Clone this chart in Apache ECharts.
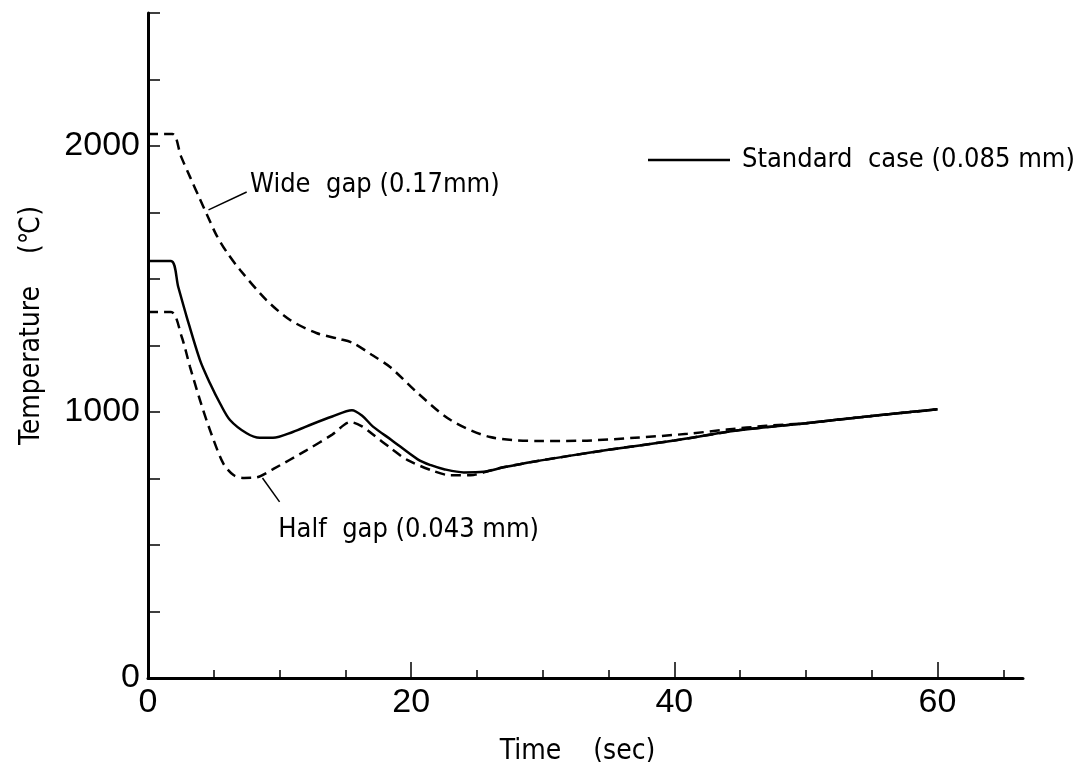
<!DOCTYPE html>
<html>
<head>
<meta charset="utf-8">
<script src="https://cdn.jsdelivr.net/npm/echarts@6/dist/echarts.min.js"></script>
<style>
html,body{margin:0;padding:0;background:#fff;}
#chart{width:1078px;height:762px;}
</style>
</head>
<body>
<div id="chart"></div>
<script>
// ---- data (time in sec, temperature in °C) ----
const xMajorTicks = [0, 20, 40, 60];
const xMinorTicks = [5, 10, 15, 25, 30, 35, 45, 50, 55, 65];
const yLabelValues = [0, 1000, 2000];

const standardCase = [
  [0,1568],[1.75,1568],[2.3,1470],[2.94,1358],[3.95,1195],[4.71,1108],[5.5,1030],
  [6.23,970],[7.5,920],[8.5,903],[9.5,903],[11,925],[12.5,955],[14,983],[15.5,1007],
  [16.3,985],[17.1,945],[18.5,895],[20.5,822],[21.5,800],[22.5,785],[24,773],[25.5,775],
  [27,792],[29.5,815],[32,835],[35,858],[40,893],[45,932],[50,958],[55,985],[60,1010]
];
const wideGap = [
  [0,2045],[1.85,2045],[2.5,1962],[3.2,1883],[3.95,1800],[4.5,1740],[5.2,1665],[6,1600],
  [7,1534],[9,1421],[10.8,1346],[12.8,1297],[14.5,1275],[15.6,1259],[17,1215],[18.4,1169],
  [20.5,1071],[23,970],[26,906],[29.8,891],[33,892],[37,903],[41,918],[44,934],[47,948],
  [50,958],[55,985],[60,1010]
];
const halfGap = [
  [0,1376],[1.75,1376],[2.56,1283],[3.19,1170],[3.95,1045],[4.71,932],[5.72,807],
  [6.5,763],[7.3,752],[8.3,755],[9.5,785],[12,855],[14,915],[15.4,962],[16.3,945],
  [17.1,915],[18.5,862],[19.7,820],[21.7,778],[23,762],[24.5,762],[26,780],[27,792],
  [29.5,815],[32,835],[35,858],[40,893],[45,932],[50,958],[55,985],[60,1010]
];

// annotation texts and anchor points (data coordinates)
const labelWide = 'Wide  gap (0.17mm)';
const labelHalf = 'Half  gap (0.043 mm)';
const labelStandard = 'Standard  case (0.085 mm)';
const wideTextAt = [7.75, 1853];
const wideArrow = [[7.5, 1827], [4.6, 1760]];
const halfTextAt = [9.9, 556];
const halfArrow = [[10.0, 662], [8.7, 752]];

const NARROW = "'Liberation Sans Narrow','DejaVu Sans Condensed',sans-serif";
const SANS = "'Liberation Sans',Arial,sans-serif";
const ANN_SIZE = 27;

const chart = echarts.init(document.getElementById('chart'));

function textPoint(at, text) {
  return {
    symbol: 'circle', symbolSize: 0, silent: true,
    label: { show: true, position: 'right', distance: 0, color: '#000',
             fontFamily: NARROW, fontSize: ANN_SIZE, formatter: text },
    data: [{ coord: at }]
  };
}
function arrowLine(pts) {
  return {
    silent: true, symbol: ['none', 'arrow'], symbolSize: [0, 11],
    lineStyle: { color: '#000', width: 1.5, type: 'solid' },
    label: { show: false },
    data: [[{ coord: pts[0] }, { coord: pts[1] }]]
  };
}

const axisCommon = { min: 0, max: 66.5, type: 'value', splitLine: { show: false } };

chart.setOption({
  animation: false,
  backgroundColor: '#fff',
  grid: { left: 148, right: 55, top: 13, bottom: 84, containLabel: false, outerBoundsMode: 'none' },
  legend: {
    left: 648, top: 143, padding: 0,
    data: [{ name: labelStandard, icon: 'rect' }],
    itemWidth: 82, itemHeight: 2.5,
    textStyle: { fontFamily: NARROW, fontSize: ANN_SIZE, color: '#000', lineHeight: 34, padding: [0,0,0,7] }
  },
  xAxis: [
    Object.assign({}, axisCommon, {
      position: 'bottom',
      name: 'Time    (sec)', nameLocation: 'middle', nameGap: 60,
      nameTextStyle: { fontFamily: NARROW, fontSize: 28, color: '#000', padding: [0, 16, 0, 0] },
      axisLine: { show: true, lineStyle: { color: '#000', width: 3 } },
      axisTick: { show: true, inside: true, length: 16, customValues: xMajorTicks,
                  lineStyle: { color: '#000', width: 1.5 } },
      axisLabel: { customValues: xMajorTicks, fontFamily: SANS, fontSize: 34, color: '#000', margin: 8 }
    }),
    Object.assign({}, axisCommon, {
      position: 'bottom',
      axisLine: { show: false },
      axisTick: { show: true, inside: true, length: 8, customValues: xMinorTicks,
                  lineStyle: { color: '#000', width: 1.5 } },
      axisLabel: { show: false }
    })
  ],
  yAxis: {
    type: 'value', min: 0, max: 2500, interval: 250,
    name: 'Temperature    (℃)', nameLocation: 'middle', nameGap: 102, nameRotate: 90,
    nameTextStyle: { fontFamily: NARROW, fontSize: 28, color: '#000', padding: [0, 0, 0, 40] },
    splitLine: { show: false },
    axisLine: { show: true, lineStyle: { color: '#000', width: 3 } },
    axisTick: { show: true, inside: true, length: 12, lineStyle: { color: '#000', width: 1.5 } },
    axisLabel: {
      fontFamily: SANS, fontSize: 34, color: '#000', margin: 8,
      formatter: v => (yLabelValues.indexOf(v) >= 0 ? String(v) : '')
    }
  },
  series: [
    {
      name: labelStandard, type: 'line', data: standardCase, symbol: 'none', smooth: 0.3,
      lineStyle: { color: '#000', width: 2.5, type: 'solid' }, itemStyle: { color: '#000' }, z: 3
    },
    {
      name: 'Wide gap', type: 'line', data: wideGap, symbol: 'none', smooth: 0.3,
      lineStyle: { color: '#000', width: 2.5, type: [10, 6] }, itemStyle: { color: '#000' },
      markLine: arrowLine(wideArrow), markPoint: textPoint(wideTextAt, labelWide), z: 2
    },
    {
      name: 'Half gap', type: 'line', data: halfGap, symbol: 'none', smooth: 0.3,
      lineStyle: { color: '#000', width: 2.5, type: [10, 6] }, itemStyle: { color: '#000' },
      markLine: arrowLine(halfArrow), markPoint: textPoint(halfTextAt, labelHalf), z: 2
    }
  ]
});
</script>
</body>
</html>
